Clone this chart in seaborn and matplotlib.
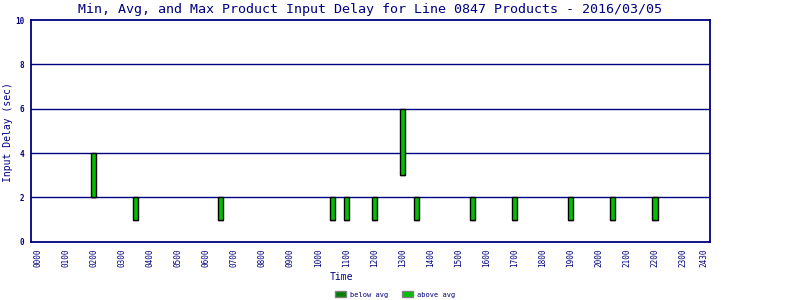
import matplotlib
matplotlib.use("Agg")
import matplotlib.pyplot as plt
import seaborn as sns
import numpy as np
import pandas as pd
from matplotlib.patches import Patch

# ---- data ----
times = [2.0, 3.5, 6.5, 10.5, 11.0, 12.0, 13.0, 13.5, 15.5, 17.0, 19.0, 20.5, 22.0]
min_delay = [2, 1, 1, 1, 1, 1, 3, 1, 1, 1, 1, 1, 1]
avg_delay = [2, 1, 1, 1, 1, 1, 3, 1, 1, 1, 1, 1, 1]
max_delay = [4, 2, 2, 2, 2, 2, 6, 2, 2, 2, 2, 2, 2]
tick_pos = list(range(24)) + [23.75]
tick_labels = ["%02d00" % h for h in range(24)] + ["2430"]
y_ticks = [0, 2, 4, 6, 8, 10]

df = pd.DataFrame({"time": times, "min": min_delay, "avg": avg_delay, "max": max_delay})

sns.set_theme(style="white")
plt.rcParams["font.family"] = ["DejaVu Sans Mono", "DejaVu Sans"]

NAVY = "#000080"
DARK = "#008000"
LIGHT = "#00C000"

fig = plt.figure(figsize=(8, 3), dpi=100)
ax = fig.add_axes([31 / 800, (300 - 241.7) / 300, 679 / 800, (241.7 - 20) / 300])

ax.set_xlim(-0.24, 23.96)
ax.set_ylim(0, 10)

for y in y_ticks[1:-1]:
    ax.axhline(y, color=NAVY, lw=1.0, zorder=1)

w = 0.18
ax.bar(df["time"], df["avg"] - df["min"], bottom=df["min"], width=w,
       color=DARK, edgecolor="black", linewidth=1.0, zorder=3)
ax.bar(df["time"], df["max"] - df["avg"], bottom=df["avg"], width=w,
       color=LIGHT, edgecolor="black", linewidth=1.0, zorder=3)

for s in ax.spines.values():
    s.set_color(NAVY)
    s.set_linewidth(1.3)

ax.set_yticks(y_ticks)
ax.set_yticklabels([str(v) for v in y_ticks], fontsize=5.5, color=NAVY, fontweight="bold")
ax.set_xticks(tick_pos)
ax.set_xticklabels(tick_labels, rotation=90, fontsize=5.5, color=NAVY)
ax.tick_params(axis="y", direction="in", length=0, pad=5)
ax.tick_params(axis="x", length=0, pad=5)

fig.text(8 / 800, 1 - 132 / 300, "Input Delay (sec)", fontsize=7, color=NAVY,
         rotation=90, ha="center", va="center")
fig.text(341 / 800, 1 - 277 / 300, "Time", fontsize=7, color=NAVY, ha="center", va="center")

fig.text(370.5 / 800, 1 - 9.5 / 300,
         "Min, Avg, and Max Product Input Delay for Line 0847 Products - 2016/03/05",
         fontsize=9.6, color=NAVY, ha="center", va="center")

handles = [Patch(facecolor=DARK, edgecolor="#808080", label="below avg"),
           Patch(facecolor=LIGHT, edgecolor="#808080", label="above avg")]
leg = fig.legend(handles=handles, loc="center", bbox_to_anchor=(395 / 800, 1 - 294.5 / 300),
                 ncol=2, frameon=False, fontsize=5, handlelength=1.6, handleheight=1.0,
                 columnspacing=2.0, handletextpad=0.5, borderpad=0)
for t in leg.get_texts():
    t.set_color(NAVY)

fig.savefig("out.png", dpi=100, facecolor="white")
